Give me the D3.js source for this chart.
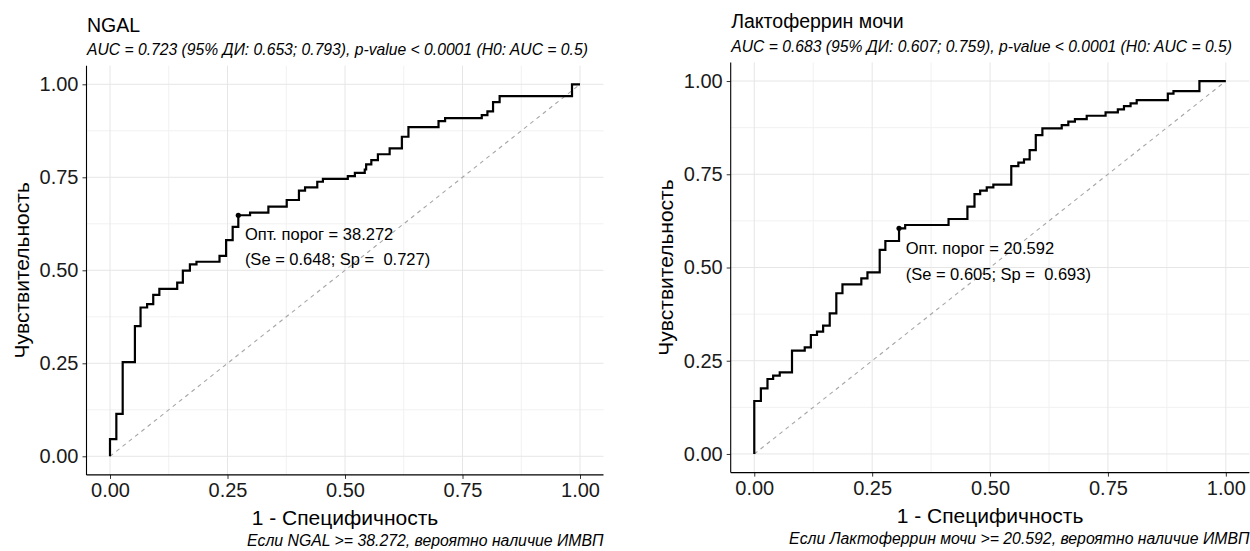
<!DOCTYPE html>
<html>
<head>
<meta charset="utf-8">
<script src="https://cdn.jsdelivr.net/npm/d3@7"></script>
<style>
  html, body { margin: 0; padding: 0; background: #fff; }
  svg text { font-family: "Liberation Sans", Arial, sans-serif; white-space: pre; }
</style>
</head>
<body>
<svg id="chart" width="1250" height="551"></svg>
<script>
// ---------- DATA ----------
const axisTicks = [0, 0.25, 0.5, 0.75, 1];
const minorTicks = [0.125, 0.375, 0.625, 0.875];
const tickLabels = ["0.00", "0.25", "0.50", "0.75", "1.00"];

// NGAL ROC curve: corner points (1 - specificity, sensitivity), step curve
const ngalFpr = [0, 0.0135, 0.027, 0.053, 0.065, 0.079, 0.092, 0.105, 0.143, 0.155, 0.170, 0.184, 0.233, 0.247, 0.261, 0.273, 0.298, 0.337, 0.376, 0.402, 0.415, 0.441, 0.453, 0.506, 0.521, 0.542, 0.545, 0.556, 0.570, 0.595, 0.621, 0.635, 0.699, 0.713, 0.791, 0.803, 0.815, 0.829, 0.983, 1.0];
const ngalTpr = [0, 0.046, 0.114, 0.253, 0.350, 0.400, 0.409, 0.434, 0.450, 0.467, 0.499, 0.516, 0.523, 0.539, 0.581, 0.617, 0.648, 0.655, 0.671, 0.689, 0.714, 0.723, 0.738, 0.746, 0.753, 0.762, 0.771, 0.785, 0.796, 0.812, 0.828, 0.859, 0.885, 0.901, 0.909, 0.917, 0.927, 0.952, 0.968, 1.0];
const ngalOpt = { fpr: 0.273, tpr: 0.648 };

// Lactoferrin ROC curve
const lactFpr = [0, 0.014, 0.028, 0.040, 0.054, 0.080, 0.107, 0.120, 0.133, 0.146, 0.160, 0.174, 0.187, 0.227, 0.240, 0.266, 0.278, 0.307, 0.320, 0.412, 0.452, 0.467, 0.479, 0.493, 0.507, 0.545, 0.560, 0.572, 0.584, 0.597, 0.611, 0.652, 0.666, 0.680, 0.705, 0.745, 0.771, 0.784, 0.798, 0.811, 0.877, 0.889, 0.944, 1.0];
const lactTpr = [0, 0.142, 0.176, 0.201, 0.210, 0.219, 0.277, 0.286, 0.319, 0.328, 0.344, 0.377, 0.431, 0.455, 0.471, 0.487, 0.547, 0.571, 0.605, 0.614, 0.630, 0.663, 0.697, 0.706, 0.715, 0.722, 0.772, 0.781, 0.790, 0.815, 0.855, 0.873, 0.882, 0.891, 0.898, 0.907, 0.916, 0.924, 0.933, 0.940, 0.949, 0.966, 0.973, 1.0];
const lactOpt = { fpr: 0.307, tpr: 0.605 };

const titles = ["NGAL", "Лактоферрин мочи"];
const subtitles = [
  "AUC = 0.723 (95% ДИ: 0.653; 0.793), p-value < 0.0001 (H0: AUC = 0.5)",
  "AUC = 0.683 (95% ДИ: 0.607; 0.759), p-value < 0.0001 (H0: AUC = 0.5)"
];
const annotLine1 = ["Опт. порог = 38.272", "Опт. порог = 20.592"];
const annotLine2 = ["(Se = 0.648; Sp =  0.727)", "(Se = 0.605; Sp =  0.693)"];
const captions = [
  "Если NGAL >= 38.272, вероятно наличие ИМВП",
  "Если Лактоферрин мочи >= 20.592, вероятно наличие ИМВП"
];
const xTitle = "1 - Специфичность";
const yTitle = "Чувствительность";

// ---------- LAYOUT ----------
const panels = [
  { left: 86.5, right: 603.5, top: 65.7, bottom: 474.9,
    fpr: ngalFpr, tpr: ngalTpr, opt: ngalOpt, annX: 0.287, annY: 0.598 },
  { left: 730.7, right: 1249.4, top: 62.4, bottom: 472.6,
    fpr: lactFpr, tpr: lactTpr, opt: lactOpt, annX: 0.321, annY: 0.551 }
];

const svg = d3.select("#chart");
svg.append("rect").attr("width", 1250).attr("height", 551).attr("fill", "#fff");

panels.forEach((p, i) => {
  const x = d3.scaleLinear().domain([-0.05, 1.05]).range([p.left, p.right]);
  const y = d3.scaleLinear().domain([-0.05, 1.05]).range([p.bottom, p.top]);
  const g = svg.append("g");

  // grid
  const grid = g.append("g");
  minorTicks.forEach(t => {
    grid.append("line").attr("x1", x(t)).attr("x2", x(t)).attr("y1", p.top).attr("y2", p.bottom)
      .attr("stroke", "#f1f1f1").attr("stroke-width", 1);
    grid.append("line").attr("y1", y(t)).attr("y2", y(t)).attr("x1", p.left).attr("x2", p.right)
      .attr("stroke", "#f1f1f1").attr("stroke-width", 1);
  });
  axisTicks.forEach(t => {
    grid.append("line").attr("x1", x(t)).attr("x2", x(t)).attr("y1", p.top).attr("y2", p.bottom)
      .attr("stroke", "#e6e6e6").attr("stroke-width", 1);
    grid.append("line").attr("y1", y(t)).attr("y2", y(t)).attr("x1", p.left).attr("x2", p.right)
      .attr("stroke", "#e6e6e6").attr("stroke-width", 1);
  });

  // diagonal
  g.append("line").attr("x1", x(0)).attr("y1", y(0)).attr("x2", x(1)).attr("y2", y(1))
    .attr("stroke", "#a6a6a6").attr("stroke-width", 1.1).attr("stroke-dasharray", "4,4");

  // ROC curve
  const pts = p.fpr.map((f, k) => [f, p.tpr[k]]);
  const line = d3.line().x(d => x(d[0])).y(d => y(d[1])).curve(d3.curveStepBefore);
  g.append("path").datum(pts).attr("d", line).attr("fill", "none")
    .attr("stroke", "#000").attr("stroke-width", 2.2).attr("stroke-linejoin", "miter");

  // optimal point
  g.append("circle").attr("cx", x(p.opt.fpr)).attr("cy", y(p.opt.tpr)).attr("r", 2.6).attr("fill", "#000");

  // annotation
  g.append("text").attr("x", x(p.annX)).attr("y", y(p.annY)).attr("dy", "0.35em")
    .attr("font-size", 16.5).attr("fill", "#000").text(annotLine1[i]);
  g.append("text").attr("x", x(p.annX)).attr("y", y(p.annY) + 25.3).attr("dy", "0.35em")
    .attr("font-size", 16.5).attr("fill", "#000").text(annotLine2[i]);

  // axes
  const xAxis = d3.axisBottom(x).tickValues(axisTicks).tickFormat((d, k) => tickLabels[k]).tickSize(4).tickPadding(4);
  const yAxis = d3.axisLeft(y).tickValues(axisTicks).tickFormat((d, k) => tickLabels[k]).tickSize(4).tickPadding(4);
  const gx = g.append("g").attr("transform", `translate(0,${p.bottom})`).call(xAxis);
  const gy = g.append("g").attr("transform", `translate(${p.left},0)`).call(yAxis);
  [gx, gy].forEach(a => {
    a.select(".domain").remove();
    a.selectAll(".tick line").attr("stroke", "#333").attr("stroke-width", 1);
    a.selectAll(".tick text").attr("font-size", 20).attr("fill", "#1a1a1a")
      .attr("font-family", "Liberation Sans, Arial, sans-serif");
  });
  g.append("line").attr("x1", p.left).attr("x2", p.right).attr("y1", p.bottom).attr("y2", p.bottom)
    .attr("stroke", "#000").attr("stroke-width", 1.1);
  g.append("line").attr("x1", p.left).attr("x2", p.left).attr("y1", p.top).attr("y2", p.bottom)
    .attr("stroke", "#000").attr("stroke-width", 1.1);

  // titles
  const shift = p.top - 65.7;
  g.append("text").attr("x", p.left + 0.5).attr("y", 31.5 + shift).attr("font-size", 19.5)
    .attr("fill", "#000").text(titles[i]);
  g.append("text").attr("x", p.left + 0.5).attr("y", 55 + shift).attr("font-size", 15.7)
    .attr("font-style", "italic").attr("fill", "#000").text(subtitles[i]);

  // axis titles
  g.append("text").attr("x", (p.left + p.right) / 2).attr("y", p.bottom + 50)
    .attr("text-anchor", "middle").attr("font-size", 21).attr("fill", "#000").text(xTitle);
  g.append("text").attr("transform", `translate(${p.left - 58},${(p.top + p.bottom) / 2}) rotate(-90)`)
    .attr("text-anchor", "middle").attr("font-size", 21).attr("fill", "#000").text(yTitle);

  // caption
  g.append("text").attr("x", p.right).attr("y", p.bottom + 71)
    .attr("text-anchor", "end").attr("font-size", 15.8).attr("font-style", "italic")
    .attr("fill", "#000").text(captions[i]);
});
</script>
</body>
</html>
